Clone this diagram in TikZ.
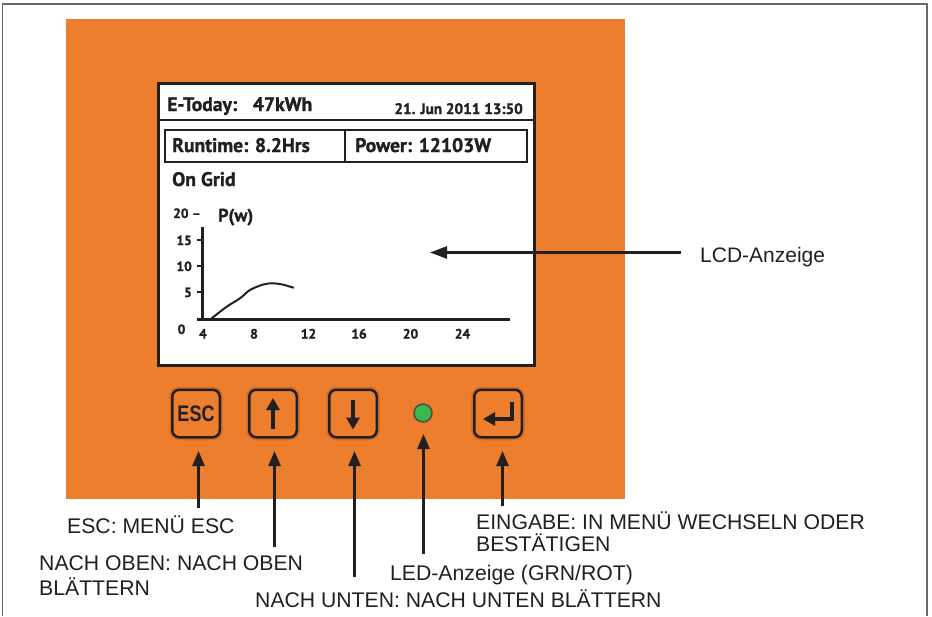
\documentclass[tikz,border=0pt]{standalone}
\usepackage{fontspec}
\setmainfont{Liberation Sans}
\newfontfamily\lcdfont[BoldFeatures={FakeBold=1.2}]{PT Sans}
\usetikzlibrary{arrows.meta,calc}
\definecolor{panel}{RGB}{237,126,45}
\definecolor{panelshade}{RGB}{196,96,30}
\definecolor{ink}{RGB}{35,31,32}
\definecolor{ledgreen}{RGB}{58,184,76}
\definecolor{framegray}{RGB}{105,105,105}
\begin{document}
\begin{tikzpicture}[x=1pt,y=-1pt,
  lcdtxt/.style={inner sep=0, text=ink, font=\lcdfont\bfseries\fontsize{19.6}{19.6}\selectfont},
  lcdsmall/.style={inner sep=0, text=ink, font=\lcdfont\bfseries\fontsize{13.5}{13.5}\selectfont},
  lbl/.style={inner sep=0, anchor=base west, text=ink, font=\fontsize{21.2}{24}\selectfont},
  callout/.style={draw=ink, line width=2.5pt, -{Triangle[length=15pt,width=12pt]}},
  btn/.style={draw=ink, line width=2.5pt, rounded corners=7pt, minimum size=47.5pt, inner sep=0, fill=panel,
     preaction={draw=panelshade, draw opacity=0.6, line width=6pt}},
  sym/.style={draw=ink, line width=3.5pt, -{Triangle[length=12pt,width=13pt]}}
]
\useasboundingbox (0,0) rectangle (932,616);
\fill[white] (0,0) rectangle (932,616);
\draw[framegray, line width=1.5pt] (2.5,616) -- (2.5,4) -- (927,4) -- (927,616);
\fill[panel] (66,19) rectangle (625,499);

% LCD screen
\node[draw=ink, line width=2.5pt, fill=white, minimum width=376pt, minimum height=282pt,
      anchor=north west, inner sep=0] (lcd) at (157,82) {};
\draw[ink, line width=1.2pt] (157,120) -- (533,120);
\draw[ink, line width=1.6pt] (165,130) rectangle (527,162);
\draw[ink, line width=1.6pt] (345,130) -- (345,162);
\node[lcdtxt, anchor=base west] (etoday) at (167,111) {E-Today:\hspace{0.8em}47kWh};
\node[lcdtxt, anchor=base east, font=\lcdfont\bfseries\fontsize{15.2}{15.2}\selectfont] (date) at (523,114) {21. Jun 2011 13:50};
\node[lcdtxt, anchor=base west] (runtime) at (172,152) {Runtime: 8.2Hrs};
\node[lcdtxt, anchor=base west] (power) at (355,152) {Power: 12103W};
\node[lcdtxt, anchor=base west] (ongrid) at (172,186) {On Grid};

% graph
\node[lcdsmall, anchor=base west] (y20) at (173,218) {20 –};
\node[inner sep=0, anchor=base west, text=ink, font=\lcdfont\bfseries\fontsize{18}{18}\selectfont] (pw) at (218,221.5) {P(w)};
\node[lcdsmall, anchor=base east] (y15) at (192,245) {15};
\node[lcdsmall, anchor=base east] (y10) at (192,271) {10};
\node[lcdsmall, anchor=base east] (y5) at (192,297) {5};
\node[lcdsmall, anchor=base] (y0) at (181.5,334) {0};
\node[lcdsmall, anchor=base] (x4) at (203,338.5) {4};
\node[lcdsmall, anchor=base] (x8) at (254,338.5) {8};
\node[lcdsmall, anchor=base] (x12) at (308.5,338.5) {12};
\node[lcdsmall, anchor=base] (x16) at (359,338.5) {16};
\node[lcdsmall, anchor=base] (x20) at (410.5,338.5) {20};
\node[lcdsmall, anchor=base] (x24) at (462.5,338.5) {24};
\draw[ink, line width=3pt] (202.3,226.5) -- (202.3,319.3);
\draw[ink, line width=3pt] (196.5,319.3) -- (510,319.3);
\foreach \yy in {239.5,266,292}
  \draw[ink, line width=2pt] (196.5,\yy) -- (202.3,\yy);
\draw[ink, line width=2pt, line cap=round] plot[smooth, tension=0.55] coordinates
  {(211.7,318.3) (226.7,306.7) (240,298.3) (250,290) (263.3,284.5) (273.3,283.3) (283.3,284.7) (293.3,287.7)};

% LCD callout
\node[lbl, font=\fontsize{21}{21}\selectfont] (lcdlbl) at (700,262.5) {LCD-Anzeige};
\coordinate (lcdtail) at (681,252.5);
\coordinate (lcdtip) at (430,252.5);
\draw[callout, -{Triangle[length=17pt,width=12pt]}] (lcdtail) -- (lcdtip);

% buttons
\node[btn] (esc) at (196,413.5) {\scalebox{0.8}[1]{\bfseries\fontsize{22.5}{22.5}\selectfont\color{ink}ESC}};
\node[btn] (up) at (273,413.5) {};
\node[btn] (down) at (353,413.5) {};
\node[btn] (enter) at (498,413.5) {};
\node[circle, draw=ink!80, line width=1.5pt, fill=ledgreen, minimum size=18pt, inner sep=0] (led) at (423,413) {};
\draw[sym] ($(up)+(0,15)$) -- ($(up)+(0,-15.5)$);
\draw[sym] ($(down)+(0,-13.5)$) -- ($(down)+(0,16)$);
\draw[sym] ($(enter)+(14,-12)$) -- ($(enter)+(14,5.5)$) -- ($(enter)+(-15,5.5)$);

% bottom labels
\node[lbl] (esclbl) at (67,533) {ESC: MENÜ ESC};
\node[lbl] (uplbl1) at (39,570) {NACH OBEN: NACH OBEN};
\node[lbl] (uplbl2) at (39,595) {BLÄTTERN};
\node[lbl] (downlbl) at (255,607.5) {NACH UNTEN: NACH UNTEN BLÄTTERN};
\node[lbl] (ledlbl) at (390,580) {LED-Anzeige (GRN/ROT)};
\node[lbl] (enterlbl1) at (476,529) {EINGABE: IN MENÜ WECHSELN ODER};
\node[lbl] (enterlbl2) at (476,551.5) {BESTÄTIGEN};

\coordinate (esctail) at (198.5,508);
\coordinate (esctip) at (198.5,451);
\coordinate (uptail) at (274.5,547);
\coordinate (uptip) at (274.5,451);
\coordinate (downtail) at (354.5,577);
\coordinate (downtip) at (354.5,451);
\coordinate (ledtail) at (423.5,554);
\coordinate (ledtip) at (423.5,434);
\coordinate (entertail) at (502.5,506);
\coordinate (entertip) at (502.5,451);
\draw[callout] (esctail) -- (esctip);
\draw[callout] (uptail) -- (uptip);
\draw[callout] (downtail) -- (downtip);
\draw[callout] (ledtail) -- (ledtip);
\draw[callout] (entertail) -- (entertip);
\end{tikzpicture}
\end{document}
